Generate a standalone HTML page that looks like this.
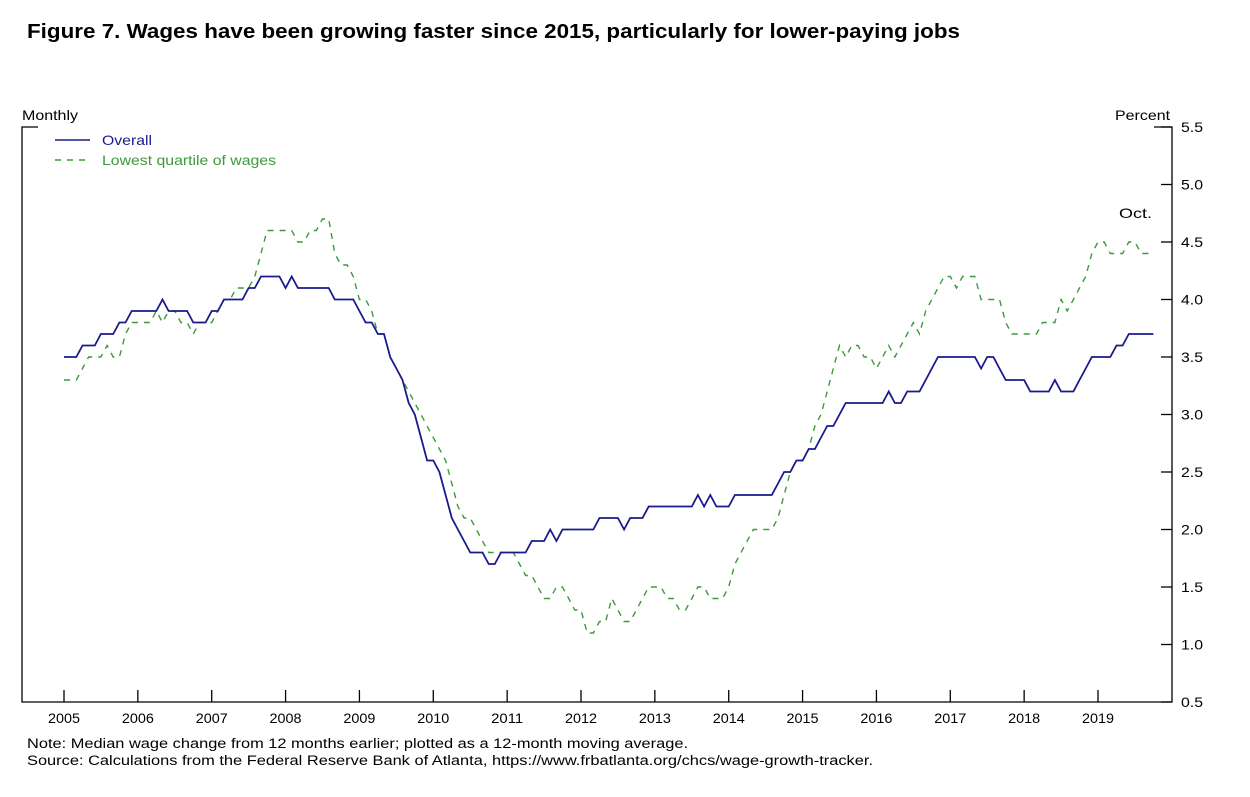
<!DOCTYPE html>
<html><head><meta charset="utf-8"><style>
body{margin:0;background:#fff;}
svg text{font-family:"Liberation Sans",Arial,sans-serif;}
</style></head><body>
<svg width="1250" height="792" xmlns="http://www.w3.org/2000/svg">
<text x="27" y="38" font-size="20" font-weight="bold" fill="#000" textLength="933" lengthAdjust="spacingAndGlyphs">Figure 7. Wages have been growing faster since 2015, particularly for lower-paying jobs</text>
<text x="22" y="120" font-size="14" fill="#000" textLength="56" lengthAdjust="spacingAndGlyphs">Monthly</text>
<text x="1115" y="120" font-size="14" fill="#000" textLength="55" lengthAdjust="spacingAndGlyphs">Percent</text>
<g id="axes" stroke="#000" stroke-width="1.3" fill="none">
<path d="M38,127 H22 V702 H1172 V127 H1154"/>
</g>
<g id="yticks"></g><g id="xticks"></g>
<g id="series"></g>
<line x1="55" y1="140" x2="90" y2="140" stroke="#1a1a8c" stroke-width="1.6"/>
<text x="102" y="145" font-size="14" fill="#1a1a8c" textLength="50" lengthAdjust="spacingAndGlyphs">Overall</text>
<line x1="55" y1="160" x2="90" y2="160" stroke="#3c9a3c" stroke-width="1.4" stroke-dasharray="6,6"/>
<text x="102" y="165" font-size="14" fill="#3c9a3c" textLength="174" lengthAdjust="spacingAndGlyphs">Lowest quartile of wages</text>
<text x="1119" y="218" font-size="14" fill="#000" textLength="33" lengthAdjust="spacingAndGlyphs">Oct.</text>
<text x="27" y="748" font-size="13.5" fill="#000" textLength="661" lengthAdjust="spacingAndGlyphs">Note:  Median wage change from 12 months earlier; plotted as a 12-month moving average.</text>
<text x="27" y="765" font-size="13.5" fill="#000" textLength="846" lengthAdjust="spacingAndGlyphs">Source:  Calculations from the Federal Reserve Bank of Atlanta, https://www.frbatlanta.org/chcs/wage-growth-tracker.</text>
</svg>
<script>
const yearLabels=["2005","2006","2007","2008","2009","2010","2011","2012","2013","2014","2015","2016","2017","2018","2019"];
const yTickValues=[0.5,1.0,1.5,2.0,2.5,3.0,3.5,4.0,4.5,5.0,5.5];
const overall=[3.5,3.5,3.5,3.6,3.6,3.6,3.7,3.7,3.7,3.8,3.8,3.9,
3.9,3.9,3.9,3.9,4.0,3.9,3.9,3.9,3.9,3.8,3.8,3.8,
3.9,3.9,4.0,4.0,4.0,4.0,4.1,4.1,4.2,4.2,4.2,4.2,
4.1,4.2,4.1,4.1,4.1,4.1,4.1,4.1,4.0,4.0,4.0,4.0,
3.9,3.8,3.8,3.7,3.7,3.5,3.4,3.3,3.1,3.0,2.8,2.6,
2.6,2.5,2.3,2.1,2.0,1.9,1.8,1.8,1.8,1.7,1.7,1.8,
1.8,1.8,1.8,1.8,1.9,1.9,1.9,2.0,1.9,2.0,2.0,2.0,
2.0,2.0,2.0,2.1,2.1,2.1,2.1,2.0,2.1,2.1,2.1,2.2,
2.2,2.2,2.2,2.2,2.2,2.2,2.2,2.3,2.2,2.3,2.2,2.2,
2.2,2.3,2.3,2.3,2.3,2.3,2.3,2.3,2.4,2.5,2.5,2.6,
2.6,2.7,2.7,2.8,2.9,2.9,3.0,3.1,3.1,3.1,3.1,3.1,
3.1,3.1,3.2,3.1,3.1,3.2,3.2,3.2,3.3,3.4,3.5,3.5,
3.5,3.5,3.5,3.5,3.5,3.4,3.5,3.5,3.4,3.3,3.3,3.3,
3.3,3.2,3.2,3.2,3.2,3.3,3.2,3.2,3.2,3.3,3.4,3.5,
3.5,3.5,3.5,3.6,3.6,3.7,3.7,3.7,3.7,3.7];
const lowestQuartile=[3.3,3.3,3.3,3.4,3.5,3.5,3.5,3.6,3.5,3.5,3.7,3.8,
3.8,3.8,3.8,3.9,3.8,3.9,3.9,3.8,3.8,3.7,3.8,3.8,
3.8,3.9,4.0,4.0,4.1,4.1,4.1,4.2,4.4,4.6,4.6,4.6,
4.6,4.6,4.5,4.5,4.6,4.6,4.7,4.7,4.4,4.3,4.3,4.2,
4.0,4.0,3.9,3.7,3.7,3.5,3.4,3.3,3.2,3.1,3.0,2.9,
2.8,2.7,2.6,2.4,2.2,2.1,2.1,2.0,1.9,1.8,1.8,1.8,
1.8,1.8,1.7,1.6,1.6,1.5,1.4,1.4,1.5,1.5,1.4,1.3,
1.3,1.1,1.1,1.2,1.2,1.4,1.3,1.2,1.2,1.3,1.4,1.5,
1.5,1.5,1.4,1.4,1.3,1.3,1.4,1.5,1.5,1.4,1.4,1.4,
1.5,1.7,1.8,1.9,2.0,2.0,2.0,2.0,2.1,2.3,2.5,2.6,
2.6,2.7,2.9,3.0,3.2,3.4,3.6,3.5,3.6,3.6,3.5,3.5,
3.4,3.5,3.6,3.5,3.6,3.7,3.8,3.7,3.9,4.0,4.1,4.2,
4.2,4.1,4.2,4.2,4.2,4.0,4.0,4.0,4.0,3.8,3.7,3.7,
3.7,3.7,3.7,3.8,3.8,3.8,4.0,3.9,4.0,4.1,4.2,4.4,
4.5,4.5,4.4,4.4,4.4,4.5,4.5,4.4,4.4,4.4];
const NS="http://www.w3.org/2000/svg";
function xM(m){return 64+m*(1098-64)/168;}
function yV(v){return 702-(v-0.5)*115;}
const yt=document.getElementById('yticks');
yTickValues.forEach(v=>{
 const l=document.createElementNS(NS,'line');
 l.setAttribute('x1',1161);l.setAttribute('x2',1172);l.setAttribute('y1',yV(v));l.setAttribute('y2',yV(v));
 l.setAttribute('stroke','#000');l.setAttribute('stroke-width','1.3');
 
 
 yt.appendChild(l);
 const t=document.createElementNS(NS,'text');
 t.setAttribute('x',1181);t.setAttribute('y',yV(v)+5);t.setAttribute('font-size','14');
 t.setAttribute('textLength','22');t.setAttribute('lengthAdjust','spacingAndGlyphs');
 t.textContent=v.toFixed(1);
 
 
 yt.appendChild(t);
});
const xt=document.getElementById('xticks');
yearLabels.forEach((y,i)=>{
 const x=xM(i*12);
 const l=document.createElementNS(NS,'line');
 l.setAttribute('x1',x);l.setAttribute('x2',x);l.setAttribute('y1',690);l.setAttribute('y2',702);
 l.setAttribute('stroke','#000');l.setAttribute('stroke-width','1.3');
 
 
 xt.appendChild(l);
 const t=document.createElementNS(NS,'text');
 t.setAttribute('x',x-16);t.setAttribute('y',723);t.setAttribute('font-size','14');
 t.setAttribute('textLength','32');t.setAttribute('lengthAdjust','spacingAndGlyphs');
 t.textContent=y;
 
 
 xt.appendChild(t);
});
const sg=document.getElementById('series');
function draw(arr,color,dash,name,w){
 const p=document.createElementNS(NS,'polyline');
 p.setAttribute('points',arr.map((v,i)=>xM(i).toFixed(1)+','+yV(v).toFixed(1)).join(' '));
 p.setAttribute('fill','none');p.setAttribute('stroke',color);p.setAttribute('stroke-width',w);
 if(dash)p.setAttribute('stroke-dasharray',dash);
 
 
 sg.appendChild(p);
}
draw(lowestQuartile,'#3c9a3c','6,6','lowest-quartile-line',1.4);
draw(overall,'#1a1a8c',null,'overall-line',1.8);
</script>
</body></html>
